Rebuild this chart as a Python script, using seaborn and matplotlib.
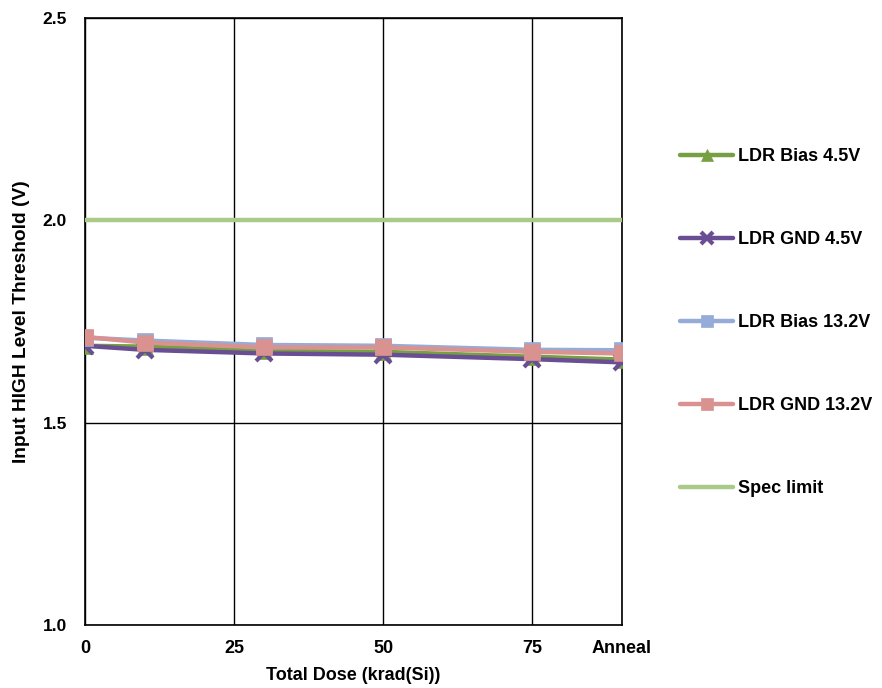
import matplotlib
matplotlib.use("Agg")
import matplotlib.pyplot as plt
import seaborn as sns
import pandas as pd

# Total dose steps (krad(Si)); the last step is the anneal
dose = [0, 10, 30, 50, 75, 90]
tick_pos = [0, 25, 50, 75, 90]
tick_labels = ["0", "25", "50", "75", "Anneal"]

ldr_bias_45 = [1.690, 1.688, 1.677, 1.675, 1.663, 1.656]
ldr_gnd_45 = [1.690, 1.680, 1.671, 1.668, 1.657, 1.649]
ldr_bias_132 = [1.710, 1.703, 1.692, 1.690, 1.680, 1.679]
ldr_gnd_132 = [1.712, 1.698, 1.686, 1.686, 1.675, 1.671]
spec_limit = [2.0, 2.0]
spec_x = [0, 90]

series = {
    "LDR Bias 4.5V": ldr_bias_45,
    "LDR GND 4.5V": ldr_gnd_45,
    "LDR Bias 13.2V": ldr_bias_132,
    "LDR GND 13.2V": ldr_gnd_132,
}
colors = {
    "LDR Bias 4.5V": "#77A043",
    "LDR GND 4.5V": "#6A4E93",
    "LDR Bias 13.2V": "#95ACD8",
    "LDR GND 13.2V": "#D99290",
}
markers = {
    "LDR Bias 4.5V": "^",
    "LDR GND 4.5V": "x",
    "LDR Bias 13.2V": "s",
    "LDR GND 13.2V": "s",
}
edge_widths = {
    "LDR Bias 4.5V": 0.5,
    "LDR GND 4.5V": 3.0,
    "LDR Bias 13.2V": 0.5,
    "LDR GND 13.2V": 0.5,
}

df = pd.DataFrame(
    [(name, d, v) for name, vals in series.items() for d, v in zip(dose, vals)],
    columns=["series", "dose", "value"],
)

sns.set_style("white")
plt.rcParams["font.family"] = ["Liberation Sans", "DejaVu Sans"]
plt.rcParams["font.weight"] = "bold"
plt.rcParams["text.color"] = "black"
plt.rcParams["axes.labelcolor"] = "black"
plt.rcParams["xtick.color"] = "black"
plt.rcParams["ytick.color"] = "black"

fig = plt.figure(figsize=(8.82, 6.88), dpi=100)
ax = fig.add_axes([0.0964, 0.0916, 0.6085, 0.8822])

# Spec limit
sns.lineplot(x=spec_x, y=spec_limit, ax=ax, color="#A9CB87", linewidth=3.2,
             label="Spec limit", zorder=3)

for name in series:
    sub = df[df["series"] == name]
    sns.lineplot(data=sub, x="dose", y="value", ax=ax, color=colors[name],
                 linewidth=3.2, marker=markers[name], markersize=12,
                 markeredgecolor=colors[name], markeredgewidth=edge_widths[name],
                 label=name, zorder=4)

ax.set_xlim(0, 90)
ax.set_ylim(1.0, 2.5)
ax.set_xticks(tick_pos)
ax.set_xticklabels(tick_labels)
ax.set_yticks([1.0, 1.5, 2.0, 2.5])
ax.set_yticklabels(["1.0", "1.5", "2.0", "2.5"])
ax.tick_params(axis="x", length=0, labelsize=13, pad=11)
ax.tick_params(axis="y", length=0, labelsize=12.5, pad=13)
for lbl in ax.get_xticklabels() + ax.get_yticklabels():
    lbl.set_fontweight("bold")

ax.grid(True, color="black", linewidth=1.0)
ax.set_axisbelow(True)
for s in ax.spines.values():
    s.set_visible(True)
    s.set_color("black")
    s.set_linewidth(1.2)

ax.set_xlabel("Total Dose (krad(Si))", fontsize=13, fontweight="bold", labelpad=7)
ax.set_ylabel("Input HIGH Level Threshold (V)", fontsize=13.8, fontweight="bold", labelpad=9)

handles, labels = ax.get_legend_handles_labels()
order = ["LDR Bias 4.5V", "LDR GND 4.5V", "LDR Bias 13.2V", "LDR GND 13.2V", "Spec limit"]
hmap = dict(zip(labels, handles))
if ax.legend_:
    ax.legend_.remove()
leg = fig.legend([hmap[k] for k in order], order, loc="upper left",
                 bbox_to_anchor=(0.753, 0.808), frameon=False,
                 prop={"weight": "bold", "size": 13}, labelspacing=3.65,
                 handlelength=2.9, handletextpad=0.3, markerscale=0.75)

fig.savefig("out.png", dpi=100)
